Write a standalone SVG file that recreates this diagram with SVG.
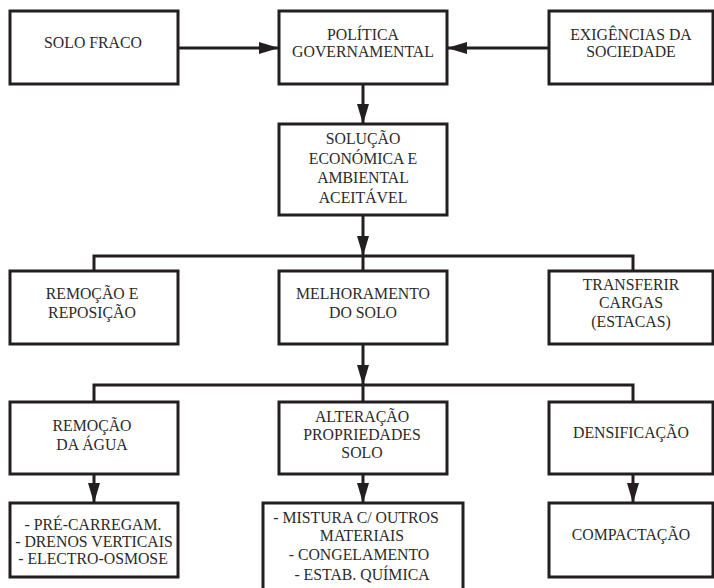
<svg xmlns="http://www.w3.org/2000/svg" width="714" height="588" viewBox="0 0 714 588">
<style>
.box{fill:#fff;stroke:#231f20;stroke-width:3}
.ln{fill:none;stroke:#231f20;stroke-width:3}
.ar{fill:none;stroke:#231f20;stroke-width:3;marker-end:url(#ah)}
.t text{font-size:15.8px;fill:#2b2b2b;text-anchor:middle}
</style>
<defs>
<marker id="ah" markerUnits="userSpaceOnUse" markerWidth="20" markerHeight="12" refX="20" refY="6" orient="auto">
<path d="M0,0 L20,6 L0,12 Z" fill="#231f20"/>
</marker>
</defs>
<rect width="714" height="588" fill="#fff"/>
<g id="connectors">
<line class="ar" x1="178" y1="48" x2="279" y2="48"/>
<line class="ar" x1="549" y1="48" x2="447" y2="48"/>
<line class="ar" x1="363" y1="84" x2="363" y2="124"/>
<line class="ar" x1="363" y1="215" x2="363" y2="256"/>
<polyline class="ln" points="94,271 94,256 633,256 633,271"/>
<line class="ln" x1="363" y1="256" x2="363" y2="271"/>
<line class="ar" x1="363" y1="344" x2="363" y2="385"/>
<polyline class="ln" points="94,402 94,385 633,385 633,402"/>
<line class="ln" x1="363" y1="385" x2="363" y2="402"/>
<line class="ar" x1="94" y1="474" x2="94" y2="503"/>
<line class="ar" x1="363" y1="474" x2="363" y2="503"/>
<line class="ar" x1="633" y1="474" x2="633" y2="503"/>
</g>
<g class="t" font-family="Liberation Serif, DejaVu Serif, Times New Roman, serif">
<g id="solo-fraco">
<rect class="box" x="10" y="11" width="168" height="73"/>
<text x="93" y="48">SOLO FRACO</text>
</g>
<g id="politica">
<rect class="box" x="279" y="11" width="168" height="73"/>
<text x="363" y="40">POLÍTICA</text>
<text x="363" y="57">GOVERNAMENTAL</text>
</g>
<g id="exigencias">
<rect class="box" x="549" y="11" width="164" height="73"/>
<text x="631" y="40">EXIGÊNCIAS DA</text>
<text x="631" y="57">SOCIEDADE</text>
</g>
<g id="solucao">
<rect class="box" x="279" y="124" width="168" height="91"/>
<text x="363" y="144">SOLUÇÃO</text>
<text x="363" y="164">ECONÓMICA E</text>
<text x="363" y="183">AMBIENTAL</text>
<text x="363" y="203">ACEITÁVEL</text>
</g>
<g id="remocao-reposicao">
<rect class="box" x="10" y="271" width="168" height="73"/>
<text x="92" y="299">REMOÇÃO E</text>
<text x="92" y="318">REPOSIÇÃO</text>
</g>
<g id="melhoramento">
<rect class="box" x="279" y="271" width="168" height="73"/>
<text x="363" y="299">MELHORAMENTO</text>
<text x="363" y="318">DO SOLO</text>
</g>
<g id="transferir">
<rect class="box" x="549" y="271" width="164" height="73"/>
<text x="631" y="290">TRANSFERIR</text>
<text x="631" y="308">CARGAS</text>
<text x="631" y="327">(ESTACAS)</text>
</g>
<g id="remocao-agua">
<rect class="box" x="10" y="402" width="168" height="72"/>
<text x="92" y="431">REMOÇÃO</text>
<text x="92" y="450">DA ÁGUA</text>
</g>
<g id="alteracao">
<rect class="box" x="279" y="402" width="168" height="72"/>
<text x="362" y="422">ALTERAÇÃO</text>
<text x="362" y="440">PROPRIEDADES</text>
<text x="362" y="458">SOLO</text>
</g>
<g id="densificacao">
<rect class="box" x="549" y="402" width="164" height="72"/>
<text x="631" y="438">DENSIFICAÇÃO</text>
</g>
<g id="pre-carregamento">
<rect class="box" x="10" y="503" width="168" height="74"/>
<text x="93" y="530">- PRÉ-CARREGAM.</text>
<text x="94" y="547">- DRENOS VERTICAIS</text>
<text x="93" y="564">- ELECTRO-OSMOSE</text>
</g>
<g id="mistura">
<rect class="box" x="263" y="503" width="200" height="90"/>
<text x="356" y="523">- MISTURA C/ OUTROS</text>
<text x="362" y="541">MATERIAIS</text>
<text x="359" y="560">- CONGELAMENTO</text>
<text x="362" y="580">- ESTAB. QUÍMICA</text>
</g>
<g id="compactacao">
<rect class="box" x="549" y="503" width="164" height="74"/>
<text x="631" y="540">COMPACTAÇÃO</text>
</g>
</g>
</svg>
